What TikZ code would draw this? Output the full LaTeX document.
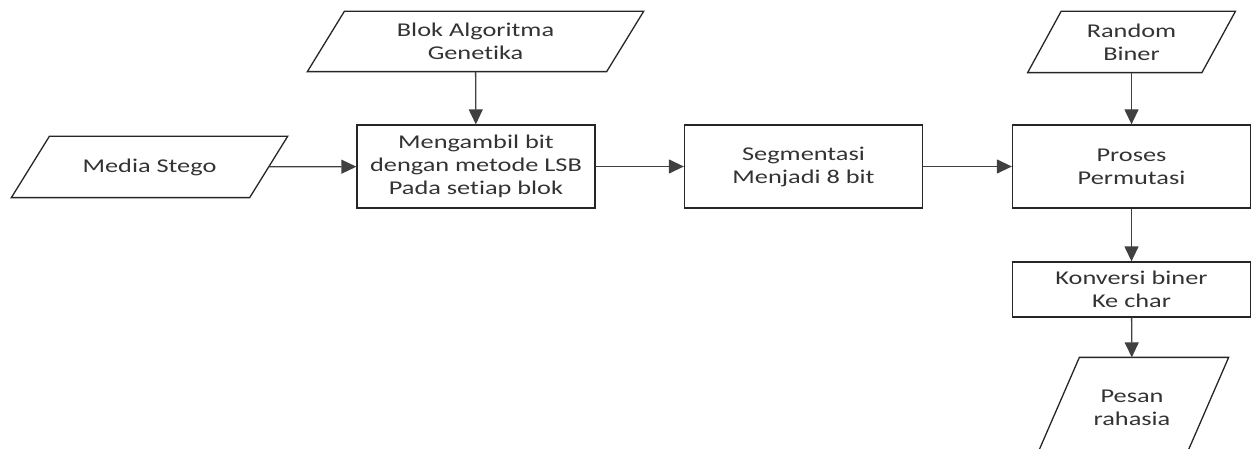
\documentclass[tikz,border=0pt]{standalone}
\usepackage{fontspec}
\setmainfont{Carlito}[FakeStretch=1.35, Ligatures=NoCommon]
\usetikzlibrary{arrows.meta}

\tikzset{
	proc/.style={draw, rectangle, minimum width=238pt, minimum height=83pt, inner sep=0pt, align=center},
	data/.style={rectangle, inner sep=0pt, align=center},
	flow/.style={draw=black!75, -{Triangle[length=15pt,width=14pt]}},
}

\begin{document}
\begin{tikzpicture}[x=1pt, y=-1pt, line width=1.3pt, draw=black!85, font=\fontsize{19.5}{23}\selectfont, text=black!80]
	\useasboundingbox (0,0) rectangle (1252,449);
	\clip (0,0) rectangle (1252,449);

	% masukan
	\node[data, minimum width=237pt, minimum height=60pt] (media) at (149.5,167) {Media Stego};
	\node[data, minimum width=298pt, minimum height=59pt] (blok) at (475.5,41.5) {Blok Algoritma\\Genetika};
	\node[data, minimum width=173pt, minimum height=60pt] (random) at (1131.5,42) {Random\\Biner};

	% proses
	\node[proc] (ambil) at (476,166.5) {Mengambil bit\\dengan metode LSB\\Pada setiap blok};
	\node[proc] (segmen) at (803.5,166.5) {Segmentasi\\Menjadi 8 bit};
	\node[proc] (permutasi) at (1131.5,166.5) {Proses\\Permutasi};
	\node[proc, minimum height=55pt] (konversi) at (1131.5,289.5) {Konversi biner\\Ke char};

	% keluaran
	\node[data, minimum width=148pt, minimum height=100pt] (pesan) at (1132,408) {Pesan\\rahasia};

	% jajaran genjang
	\foreach \n/\s in {media/19, blok/18.5, random/16.75, pesan/22}
		\draw ([xshift=-\s pt]\n.south west) -- ([xshift=\s pt]\n.north west) -- ([xshift=\s pt]\n.north east) -- ([xshift=-\s pt]\n.south east) -- cycle;

	\draw[flow] (media) -- (ambil);
	\draw[flow] (blok) -- (ambil);
	\draw[flow] (ambil) -- (segmen);
	\draw[flow] (segmen) -- (permutasi);
	\draw[flow] (random) -- (permutasi);
	\draw[flow] (permutasi) -- (konversi);
	\draw[flow] (konversi) -- (pesan);
\end{tikzpicture}
\end{document}
